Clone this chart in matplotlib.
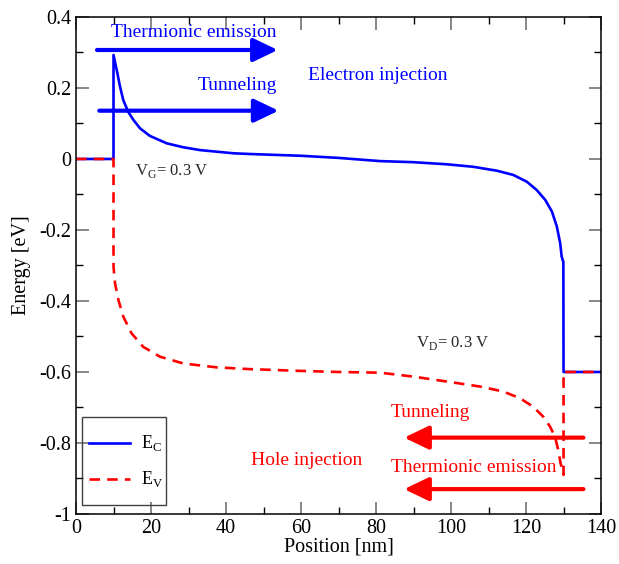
import matplotlib
matplotlib.use("Agg")
import matplotlib.pyplot as plt
from matplotlib.ticker import MultipleLocator, FuncFormatter
from matplotlib.patches import Rectangle
from matplotlib.lines import Line2D

plt.rcParams["font.family"] = ["Liberation Serif", "DejaVu Serif"]
plt.rcParams["axes.unicode_minus"] = False
plt.rcParams["mathtext.fontset"] = "custom"
plt.rcParams["mathtext.rm"] = "Liberation Serif"

# Conduction band edge
x_ec = [0, 10, 10, 10.85, 11.73, 12.6, 13.9, 15.3, 17.1, 19.7, 24.2, 28.6,
        33.1, 42, 46.4, 60, 70, 81.1, 89.9, 98.9, 105.9, 112.2, 116.6, 120.2,
        122.8, 125.1, 126.9, 128.2, 129.1, 129.5, 129.95, 130, 140]
ec = [0, 0, 0.293, 0.251, 0.204, 0.166, 0.133, 0.110, 0.086, 0.065, 0.044,
      0.033, 0.025, 0.016, 0.014, 0.009, 0.003, -0.006, -0.009, -0.015,
      -0.022, -0.033, -0.045, -0.064, -0.087, -0.115, -0.148, -0.19, -0.237,
      -0.275, -0.29, -0.6, -0.6]

# Valence band edge
x_ev = [0, 10, 10, 10.4, 11.3, 12.6, 14.8, 17.9, 22.4, 28.6, 37.5, 46.4, 60,
        70, 81.1, 89.9, 98.9, 107.7, 113.9, 118.4, 121.9, 124.6, 126.4, 127.7,
        128.6, 129.2, 129.8, 130, 130, 140]
ev = [0, 0, -0.303, -0.35, -0.397, -0.444, -0.491, -0.529, -0.557, -0.576,
      -0.587, -0.592, -0.597, -0.6, -0.602, -0.613, -0.627, -0.641, -0.655,
      -0.674, -0.698, -0.726, -0.754, -0.782, -0.82, -0.857, -0.881, -0.89,
      -0.6, -0.6]

fig = plt.figure(figsize=(6.19, 5.64), dpi=100)
ax = fig.add_axes([0.1228, 0.0887, 0.971 - 0.1228, 0.9699 - 0.0887])

ax.plot(x_ec, ec, color="blue", lw=1.9, solid_joinstyle="round")
ax.plot(x_ev, ev, color="red", lw=1.9, ls=(0, (4, 2.7)))

# injection arrows
arrow_kw = dict(arrowstyle="-|>,head_length=1.25,head_width=0.6", lw=3.0,
                shrinkA=0, shrinkB=0, mutation_scale=12)
ax.annotate("", xy=(53.8, 0.307), xytext=(5.6, 0.307),
            arrowprops=dict(color="blue", **arrow_kw))
ax.annotate("", xy=(54.0, 0.136), xytext=(6.2, 0.136),
            arrowprops=dict(color="blue", **arrow_kw))
ax.annotate("", xy=(87.5, -0.785), xytext=(135.3, -0.785),
            arrowprops=dict(color="red", **arrow_kw))
ax.annotate("", xy=(87.5, -0.93), xytext=(135.3, -0.93),
            arrowprops=dict(color="red", **arrow_kw))

ax.text(31.5, 0.355, "Thermionic emission", color="blue", fontsize=14,
        ha="center", va="center")
ax.text(42.9, 0.206, "Tunneling", color="blue", fontsize=14,
        ha="center", va="center")
ax.text(80.5, 0.234, "Electron injection", color="blue", fontsize=14,
        ha="center", va="center")
ax.text(94.4, -0.715, "Tunneling", color="red", fontsize=14,
        ha="center", va="center")
ax.text(61.6, -0.85, "Hole injection", color="red", fontsize=14,
        ha="center", va="center")
ax.text(106.0, -0.868, "Thermionic emission", color="red", fontsize=14,
        ha="center", va="center")
ax.text(15.7, -0.033, r"V$_\mathrm{G}$= 0.3 V", color="0.15", fontsize=12,
        ha="left", va="center")
ax.text(90.7, -0.517, r"V$_\mathrm{D}$= 0.3 V", color="0.15", fontsize=12,
        ha="left", va="center")

ax.set_xlim(0, 140)
ax.set_ylim(-1, 0.4)
ax.xaxis.set_major_locator(MultipleLocator(20))
ax.xaxis.set_minor_locator(MultipleLocator(10))
ax.yaxis.set_major_locator(MultipleLocator(0.2))
ax.yaxis.set_minor_locator(MultipleLocator(0.1))
fmt = FuncFormatter(lambda v, p: "%g" % (round(v, 2) + 0.0))
ax.xaxis.set_major_formatter(fmt)
ax.yaxis.set_major_formatter(fmt)
ax.tick_params(which="both", direction="in", top=True, right=True,
               labelsize=14.5)
ax.tick_params(which="major", length=9, width=1.2, color="0.45")
ax.tick_params(which="minor", length=5, width=1.0, color="black")
for s in ax.spines.values():
    s.set_linewidth(1.1)

ax.set_xlabel("Position [nm]", fontsize=14.5, labelpad=0)
ax.set_ylabel("Energy [eV]", fontsize=14.5, labelpad=6)

# legend box drawn by hand to match the framed layout
ax.add_patch(Rectangle((0.011, 0.018), 0.16, 0.178, transform=ax.transAxes,
                       fill=False, edgecolor="0.25", lw=1.0, zorder=5))
ax.add_line(Line2D([0.025, 0.103], [0.143, 0.143], transform=ax.transAxes,
                   color="blue", lw=1.9, zorder=5))
ax.add_line(Line2D([0.025, 0.103], [0.070, 0.070], transform=ax.transAxes,
                   color="red", lw=1.9, ls=(0, (4, 2.7)), zorder=5))
ax.text(0.124, 0.143, r"E$_\mathrm{C}$", transform=ax.transAxes, fontsize=13,
        va="center", ha="left")
ax.text(0.124, 0.070, r"E$_\mathrm{V}$", transform=ax.transAxes, fontsize=13,
        va="center", ha="left")

fig.savefig("out.png", dpi=100)
